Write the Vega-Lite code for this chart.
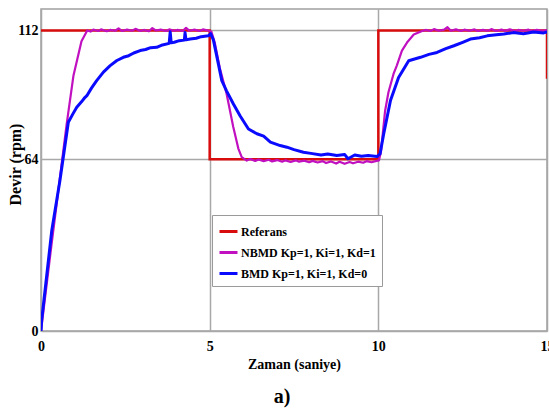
{
  "$schema": "https://vega.github.io/schema/vega-lite/v6.json",
  "autosize": {"type": "none"},
  "width": 506,
  "height": 322,
  "padding": {"left": 41, "top": 9, "right": 2, "bottom": 78},
  "background": "white",
  "title": {"text": "a)", "orient": "bottom", "anchor": "middle", "font": "Liberation Serif", "fontWeight": "bold", "fontSize": 20, "color": "black", "offset": 16, "dx": -12},
  "config": {
    "view": {"stroke": "#a0a0a0", "strokeWidth": 1.5},
    "axis": {"labelFont": "Liberation Serif", "labelFontWeight": "bold", "labelFontSize": 14, "labelColor": "black", "titleFont": "Liberation Serif", "titleFontWeight": "bold", "titleFontSize": 14, "titleColor": "black", "domain": false, "ticks": false, "grid": true, "gridColor": "#a8a8a8", "gridWidth": 1.5}
  },
  "data": {"values": [
    {"s": "Referans", "i": 0, "t": 0, "v": 112},
    {"s": "Referans", "i": 1, "t": 5, "v": 112},
    {"s": "Referans", "i": 2, "t": 5, "v": 64},
    {"s": "Referans", "i": 3, "t": 10, "v": 64},
    {"s": "Referans", "i": 4, "t": 10, "v": 112},
    {"s": "Referans", "i": 5, "t": 15, "v": 112},
    {"s": "Referans", "i": 6, "t": 15, "v": 94},

    {"s": "NBMD Kp=1, Ki=1, Kd=1", "i": 0, "t": 0, "v": 0},
    {"s": "NBMD Kp=1, Ki=1, Kd=1", "i": 1, "t": 0.3, "v": 31},
    {"s": "NBMD Kp=1, Ki=1, Kd=1", "i": 2, "t": 0.56, "v": 57},
    {"s": "NBMD Kp=1, Ki=1, Kd=1", "i": 3, "t": 0.76, "v": 77},
    {"s": "NBMD Kp=1, Ki=1, Kd=1", "i": 4, "t": 0.96, "v": 95},
    {"s": "NBMD Kp=1, Ki=1, Kd=1", "i": 5, "t": 1.2, "v": 108},
    {"s": "NBMD Kp=1, Ki=1, Kd=1", "i": 6, "t": 1.37, "v": 112},
    {"s": "NBMD Kp=1, Ki=1, Kd=1", "i": 7, "t": 1.47, "v": 111.6},
    {"s": "NBMD Kp=1, Ki=1, Kd=1", "i": 8, "t": 1.55, "v": 112.3},
    {"s": "NBMD Kp=1, Ki=1, Kd=1", "i": 9, "t": 1.7, "v": 111.8},
    {"s": "NBMD Kp=1, Ki=1, Kd=1", "i": 10, "t": 1.78, "v": 112.4},
    {"s": "NBMD Kp=1, Ki=1, Kd=1", "i": 11, "t": 1.95, "v": 111.7},
    {"s": "NBMD Kp=1, Ki=1, Kd=1", "i": 12, "t": 2.05, "v": 112.2},
    {"s": "NBMD Kp=1, Ki=1, Kd=1", "i": 13, "t": 2.2, "v": 111.9},
    {"s": "NBMD Kp=1, Ki=1, Kd=1", "i": 14, "t": 2.3, "v": 112.8},
    {"s": "NBMD Kp=1, Ki=1, Kd=1", "i": 15, "t": 2.4, "v": 111.8},
    {"s": "NBMD Kp=1, Ki=1, Kd=1", "i": 16, "t": 2.55, "v": 112.3},
    {"s": "NBMD Kp=1, Ki=1, Kd=1", "i": 17, "t": 2.7, "v": 111.9},
    {"s": "NBMD Kp=1, Ki=1, Kd=1", "i": 18, "t": 2.8, "v": 112.6},
    {"s": "NBMD Kp=1, Ki=1, Kd=1", "i": 19, "t": 2.95, "v": 111.8},
    {"s": "NBMD Kp=1, Ki=1, Kd=1", "i": 20, "t": 3.05, "v": 112.2},
    {"s": "NBMD Kp=1, Ki=1, Kd=1", "i": 21, "t": 3.2, "v": 111.7},
    {"s": "NBMD Kp=1, Ki=1, Kd=1", "i": 22, "t": 3.3, "v": 112.9},
    {"s": "NBMD Kp=1, Ki=1, Kd=1", "i": 23, "t": 3.4, "v": 112.0},
    {"s": "NBMD Kp=1, Ki=1, Kd=1", "i": 24, "t": 3.55, "v": 112.3},
    {"s": "NBMD Kp=1, Ki=1, Kd=1", "i": 25, "t": 3.7, "v": 111.8},
    {"s": "NBMD Kp=1, Ki=1, Kd=1", "i": 26, "t": 3.8, "v": 112.4},
    {"s": "NBMD Kp=1, Ki=1, Kd=1", "i": 27, "t": 3.95, "v": 111.9},
    {"s": "NBMD Kp=1, Ki=1, Kd=1", "i": 28, "t": 4.05, "v": 112.2},
    {"s": "NBMD Kp=1, Ki=1, Kd=1", "i": 29, "t": 4.2, "v": 111.8},
    {"s": "NBMD Kp=1, Ki=1, Kd=1", "i": 30, "t": 4.3, "v": 113.0},
    {"s": "NBMD Kp=1, Ki=1, Kd=1", "i": 31, "t": 4.4, "v": 111.9},
    {"s": "NBMD Kp=1, Ki=1, Kd=1", "i": 32, "t": 4.55, "v": 112.3},
    {"s": "NBMD Kp=1, Ki=1, Kd=1", "i": 33, "t": 4.7, "v": 111.8},
    {"s": "NBMD Kp=1, Ki=1, Kd=1", "i": 34, "t": 4.8, "v": 112.4},
    {"s": "NBMD Kp=1, Ki=1, Kd=1", "i": 35, "t": 4.95, "v": 112.0},
    {"s": "NBMD Kp=1, Ki=1, Kd=1", "i": 36, "t": 5.05, "v": 111.6},
    {"s": "NBMD Kp=1, Ki=1, Kd=1", "i": 37, "t": 5.15, "v": 107.5},
    {"s": "NBMD Kp=1, Ki=1, Kd=1", "i": 38, "t": 5.3, "v": 98},
    {"s": "NBMD Kp=1, Ki=1, Kd=1", "i": 39, "t": 5.5, "v": 88.5},
    {"s": "NBMD Kp=1, Ki=1, Kd=1", "i": 40, "t": 5.7, "v": 76},
    {"s": "NBMD Kp=1, Ki=1, Kd=1", "i": 41, "t": 5.85, "v": 68},
    {"s": "NBMD Kp=1, Ki=1, Kd=1", "i": 42, "t": 5.95, "v": 64.8},
    {"s": "NBMD Kp=1, Ki=1, Kd=1", "i": 43, "t": 6.1, "v": 63.5},
    {"s": "NBMD Kp=1, Ki=1, Kd=1", "i": 44, "t": 6.2, "v": 64.1},
    {"s": "NBMD Kp=1, Ki=1, Kd=1", "i": 45, "t": 6.35, "v": 63.4},
    {"s": "NBMD Kp=1, Ki=1, Kd=1", "i": 46, "t": 6.45, "v": 63.9},
    {"s": "NBMD Kp=1, Ki=1, Kd=1", "i": 47, "t": 6.6, "v": 63.3},
    {"s": "NBMD Kp=1, Ki=1, Kd=1", "i": 48, "t": 6.75, "v": 63.8},
    {"s": "NBMD Kp=1, Ki=1, Kd=1", "i": 49, "t": 6.85, "v": 63.2},
    {"s": "NBMD Kp=1, Ki=1, Kd=1", "i": 50, "t": 7.0, "v": 63.7},
    {"s": "NBMD Kp=1, Ki=1, Kd=1", "i": 51, "t": 7.15, "v": 63.1},
    {"s": "NBMD Kp=1, Ki=1, Kd=1", "i": 52, "t": 7.25, "v": 63.6},
    {"s": "NBMD Kp=1, Ki=1, Kd=1", "i": 53, "t": 7.4, "v": 63.0},
    {"s": "NBMD Kp=1, Ki=1, Kd=1", "i": 54, "t": 7.55, "v": 63.6},
    {"s": "NBMD Kp=1, Ki=1, Kd=1", "i": 55, "t": 7.65, "v": 63.1},
    {"s": "NBMD Kp=1, Ki=1, Kd=1", "i": 56, "t": 7.8, "v": 63.5},
    {"s": "NBMD Kp=1, Ki=1, Kd=1", "i": 57, "t": 7.95, "v": 62.9},
    {"s": "NBMD Kp=1, Ki=1, Kd=1", "i": 58, "t": 8.05, "v": 63.4},
    {"s": "NBMD Kp=1, Ki=1, Kd=1", "i": 59, "t": 8.2, "v": 62.8},
    {"s": "NBMD Kp=1, Ki=1, Kd=1", "i": 60, "t": 8.35, "v": 63.3},
    {"s": "NBMD Kp=1, Ki=1, Kd=1", "i": 61, "t": 8.45, "v": 62.6},
    {"s": "NBMD Kp=1, Ki=1, Kd=1", "i": 62, "t": 8.6, "v": 63.2},
    {"s": "NBMD Kp=1, Ki=1, Kd=1", "i": 63, "t": 8.75, "v": 62.4},
    {"s": "NBMD Kp=1, Ki=1, Kd=1", "i": 64, "t": 8.85, "v": 63.1},
    {"s": "NBMD Kp=1, Ki=1, Kd=1", "i": 65, "t": 9.0, "v": 62.3},
    {"s": "NBMD Kp=1, Ki=1, Kd=1", "i": 66, "t": 9.15, "v": 63.0},
    {"s": "NBMD Kp=1, Ki=1, Kd=1", "i": 67, "t": 9.25, "v": 62.5},
    {"s": "NBMD Kp=1, Ki=1, Kd=1", "i": 68, "t": 9.4, "v": 63.1},
    {"s": "NBMD Kp=1, Ki=1, Kd=1", "i": 69, "t": 9.55, "v": 62.7},
    {"s": "NBMD Kp=1, Ki=1, Kd=1", "i": 70, "t": 9.65, "v": 63.3},
    {"s": "NBMD Kp=1, Ki=1, Kd=1", "i": 71, "t": 9.8, "v": 62.9},
    {"s": "NBMD Kp=1, Ki=1, Kd=1", "i": 72, "t": 9.95, "v": 63.4},
    {"s": "NBMD Kp=1, Ki=1, Kd=1", "i": 73, "t": 10.02, "v": 63.6},
    {"s": "NBMD Kp=1, Ki=1, Kd=1", "i": 74, "t": 10.08, "v": 67},
    {"s": "NBMD Kp=1, Ki=1, Kd=1", "i": 75, "t": 10.2, "v": 82},
    {"s": "NBMD Kp=1, Ki=1, Kd=1", "i": 76, "t": 10.3, "v": 89},
    {"s": "NBMD Kp=1, Ki=1, Kd=1", "i": 77, "t": 10.45, "v": 95.8},
    {"s": "NBMD Kp=1, Ki=1, Kd=1", "i": 78, "t": 10.55, "v": 99},
    {"s": "NBMD Kp=1, Ki=1, Kd=1", "i": 79, "t": 10.7, "v": 104.5},
    {"s": "NBMD Kp=1, Ki=1, Kd=1", "i": 80, "t": 10.85, "v": 107.5},
    {"s": "NBMD Kp=1, Ki=1, Kd=1", "i": 81, "t": 11.05, "v": 110.5},
    {"s": "NBMD Kp=1, Ki=1, Kd=1", "i": 82, "t": 11.28, "v": 111.7},
    {"s": "NBMD Kp=1, Ki=1, Kd=1", "i": 83, "t": 11.4, "v": 112.2},
    {"s": "NBMD Kp=1, Ki=1, Kd=1", "i": 84, "t": 11.55, "v": 111.8},
    {"s": "NBMD Kp=1, Ki=1, Kd=1", "i": 85, "t": 11.65, "v": 112.5},
    {"s": "NBMD Kp=1, Ki=1, Kd=1", "i": 86, "t": 11.8, "v": 111.9},
    {"s": "NBMD Kp=1, Ki=1, Kd=1", "i": 87, "t": 11.95, "v": 112.3},
    {"s": "NBMD Kp=1, Ki=1, Kd=1", "i": 88, "t": 12.05, "v": 113.2},
    {"s": "NBMD Kp=1, Ki=1, Kd=1", "i": 89, "t": 12.15, "v": 111.9},
    {"s": "NBMD Kp=1, Ki=1, Kd=1", "i": 90, "t": 12.3, "v": 112.4},
    {"s": "NBMD Kp=1, Ki=1, Kd=1", "i": 91, "t": 12.45, "v": 111.8},
    {"s": "NBMD Kp=1, Ki=1, Kd=1", "i": 92, "t": 12.55, "v": 112.3},
    {"s": "NBMD Kp=1, Ki=1, Kd=1", "i": 93, "t": 12.7, "v": 111.9},
    {"s": "NBMD Kp=1, Ki=1, Kd=1", "i": 94, "t": 12.85, "v": 112.4},
    {"s": "NBMD Kp=1, Ki=1, Kd=1", "i": 95, "t": 12.95, "v": 111.8},
    {"s": "NBMD Kp=1, Ki=1, Kd=1", "i": 96, "t": 13.1, "v": 112.2},
    {"s": "NBMD Kp=1, Ki=1, Kd=1", "i": 97, "t": 13.25, "v": 111.9},
    {"s": "NBMD Kp=1, Ki=1, Kd=1", "i": 98, "t": 13.35, "v": 112.5},
    {"s": "NBMD Kp=1, Ki=1, Kd=1", "i": 99, "t": 13.5, "v": 111.8},
    {"s": "NBMD Kp=1, Ki=1, Kd=1", "i": 100, "t": 13.65, "v": 112.3},
    {"s": "NBMD Kp=1, Ki=1, Kd=1", "i": 101, "t": 13.75, "v": 111.9},
    {"s": "NBMD Kp=1, Ki=1, Kd=1", "i": 102, "t": 13.9, "v": 112.4},
    {"s": "NBMD Kp=1, Ki=1, Kd=1", "i": 103, "t": 14.05, "v": 111.8},
    {"s": "NBMD Kp=1, Ki=1, Kd=1", "i": 104, "t": 14.15, "v": 112.2},
    {"s": "NBMD Kp=1, Ki=1, Kd=1", "i": 105, "t": 14.3, "v": 111.9},
    {"s": "NBMD Kp=1, Ki=1, Kd=1", "i": 106, "t": 14.45, "v": 112.3},
    {"s": "NBMD Kp=1, Ki=1, Kd=1", "i": 107, "t": 14.55, "v": 111.8},
    {"s": "NBMD Kp=1, Ki=1, Kd=1", "i": 108, "t": 14.7, "v": 112.2},
    {"s": "NBMD Kp=1, Ki=1, Kd=1", "i": 109, "t": 14.85, "v": 111.9},
    {"s": "NBMD Kp=1, Ki=1, Kd=1", "i": 110, "t": 15.0, "v": 112.1},

    {"s": "BMD Kp=1, Ki=1, Kd=0", "i": 0, "t": 0, "v": 0},
    {"s": "BMD Kp=1, Ki=1, Kd=0", "i": 1, "t": 0.02, "v": 4},
    {"s": "BMD Kp=1, Ki=1, Kd=0", "i": 2, "t": 0.32, "v": 37.5},
    {"s": "BMD Kp=1, Ki=1, Kd=0", "i": 3, "t": 0.56, "v": 56},
    {"s": "BMD Kp=1, Ki=1, Kd=0", "i": 4, "t": 0.81, "v": 77.8},
    {"s": "BMD Kp=1, Ki=1, Kd=0", "i": 5, "t": 0.95, "v": 81},
    {"s": "BMD Kp=1, Ki=1, Kd=0", "i": 6, "t": 1.06, "v": 83.4},
    {"s": "BMD Kp=1, Ki=1, Kd=0", "i": 7, "t": 1.2, "v": 85.4},
    {"s": "BMD Kp=1, Ki=1, Kd=0", "i": 8, "t": 1.3, "v": 87.0},
    {"s": "BMD Kp=1, Ki=1, Kd=0", "i": 9, "t": 1.36, "v": 87.7},
    {"s": "BMD Kp=1, Ki=1, Kd=0", "i": 10, "t": 1.5, "v": 90.6},
    {"s": "BMD Kp=1, Ki=1, Kd=0", "i": 11, "t": 1.65, "v": 93.3},
    {"s": "BMD Kp=1, Ki=1, Kd=0", "i": 12, "t": 1.85, "v": 96.5},
    {"s": "BMD Kp=1, Ki=1, Kd=0", "i": 13, "t": 2.05, "v": 98.9},
    {"s": "BMD Kp=1, Ki=1, Kd=0", "i": 14, "t": 2.25, "v": 100.8},
    {"s": "BMD Kp=1, Ki=1, Kd=0", "i": 15, "t": 2.44, "v": 102},
    {"s": "BMD Kp=1, Ki=1, Kd=0", "i": 16, "t": 2.6, "v": 102.6},
    {"s": "BMD Kp=1, Ki=1, Kd=0", "i": 17, "t": 2.75, "v": 103.6},
    {"s": "BMD Kp=1, Ki=1, Kd=0", "i": 18, "t": 2.94, "v": 104.5},
    {"s": "BMD Kp=1, Ki=1, Kd=0", "i": 19, "t": 3.1, "v": 104.9},
    {"s": "BMD Kp=1, Ki=1, Kd=0", "i": 20, "t": 3.25, "v": 105.6},
    {"s": "BMD Kp=1, Ki=1, Kd=0", "i": 21, "t": 3.43, "v": 105.7},
    {"s": "BMD Kp=1, Ki=1, Kd=0", "i": 22, "t": 3.6, "v": 106.6},
    {"s": "BMD Kp=1, Ki=1, Kd=0", "i": 23, "t": 3.8, "v": 107.2},
    {"s": "BMD Kp=1, Ki=1, Kd=0", "i": 24, "t": 3.83, "v": 111.5},
    {"s": "BMD Kp=1, Ki=1, Kd=0", "i": 25, "t": 3.86, "v": 107.4},
    {"s": "BMD Kp=1, Ki=1, Kd=0", "i": 26, "t": 3.95, "v": 107.6},
    {"s": "BMD Kp=1, Ki=1, Kd=0", "i": 27, "t": 4.1, "v": 108.2},
    {"s": "BMD Kp=1, Ki=1, Kd=0", "i": 28, "t": 4.25, "v": 108.4},
    {"s": "BMD Kp=1, Ki=1, Kd=0", "i": 29, "t": 4.27, "v": 111.2},
    {"s": "BMD Kp=1, Ki=1, Kd=0", "i": 30, "t": 4.3, "v": 108.5},
    {"s": "BMD Kp=1, Ki=1, Kd=0", "i": 31, "t": 4.42, "v": 108.8},
    {"s": "BMD Kp=1, Ki=1, Kd=0", "i": 32, "t": 4.6, "v": 109.1},
    {"s": "BMD Kp=1, Ki=1, Kd=0", "i": 33, "t": 4.75, "v": 109.7},
    {"s": "BMD Kp=1, Ki=1, Kd=0", "i": 34, "t": 4.96, "v": 110},
    {"s": "BMD Kp=1, Ki=1, Kd=0", "i": 35, "t": 5.03, "v": 110.8},
    {"s": "BMD Kp=1, Ki=1, Kd=0", "i": 36, "t": 5.11, "v": 108.5},
    {"s": "BMD Kp=1, Ki=1, Kd=0", "i": 37, "t": 5.25, "v": 100},
    {"s": "BMD Kp=1, Ki=1, Kd=0", "i": 38, "t": 5.36, "v": 93.3},
    {"s": "BMD Kp=1, Ki=1, Kd=0", "i": 39, "t": 5.5, "v": 89.5},
    {"s": "BMD Kp=1, Ki=1, Kd=0", "i": 40, "t": 5.7, "v": 84.7},
    {"s": "BMD Kp=1, Ki=1, Kd=0", "i": 41, "t": 5.9, "v": 80.2},
    {"s": "BMD Kp=1, Ki=1, Kd=0", "i": 42, "t": 6.15, "v": 75.3},
    {"s": "BMD Kp=1, Ki=1, Kd=0", "i": 43, "t": 6.4, "v": 73.5},
    {"s": "BMD Kp=1, Ki=1, Kd=0", "i": 44, "t": 6.6, "v": 72.6},
    {"s": "BMD Kp=1, Ki=1, Kd=0", "i": 45, "t": 6.8, "v": 70.4},
    {"s": "BMD Kp=1, Ki=1, Kd=0", "i": 46, "t": 7.09, "v": 69.1},
    {"s": "BMD Kp=1, Ki=1, Kd=0", "i": 47, "t": 7.29, "v": 68.5},
    {"s": "BMD Kp=1, Ki=1, Kd=0", "i": 48, "t": 7.5, "v": 67.6},
    {"s": "BMD Kp=1, Ki=1, Kd=0", "i": 49, "t": 7.78, "v": 66.6},
    {"s": "BMD Kp=1, Ki=1, Kd=0", "i": 50, "t": 8.0, "v": 66.2},
    {"s": "BMD Kp=1, Ki=1, Kd=0", "i": 51, "t": 8.3, "v": 65.6},
    {"s": "BMD Kp=1, Ki=1, Kd=0", "i": 52, "t": 8.5, "v": 66.0},
    {"s": "BMD Kp=1, Ki=1, Kd=0", "i": 53, "t": 8.77, "v": 65.4},
    {"s": "BMD Kp=1, Ki=1, Kd=0", "i": 54, "t": 9.0, "v": 65.8},
    {"s": "BMD Kp=1, Ki=1, Kd=0", "i": 55, "t": 9.1, "v": 64.2},
    {"s": "BMD Kp=1, Ki=1, Kd=0", "i": 56, "t": 9.3, "v": 65.6},
    {"s": "BMD Kp=1, Ki=1, Kd=0", "i": 57, "t": 9.5, "v": 65.1},
    {"s": "BMD Kp=1, Ki=1, Kd=0", "i": 58, "t": 9.7, "v": 65.4},
    {"s": "BMD Kp=1, Ki=1, Kd=0", "i": 59, "t": 9.96, "v": 65},
    {"s": "BMD Kp=1, Ki=1, Kd=0", "i": 60, "t": 10.05, "v": 66},
    {"s": "BMD Kp=1, Ki=1, Kd=0", "i": 61, "t": 10.16, "v": 73.5},
    {"s": "BMD Kp=1, Ki=1, Kd=0", "i": 62, "t": 10.36, "v": 85.9},
    {"s": "BMD Kp=1, Ki=1, Kd=0", "i": 63, "t": 10.6, "v": 94.5},
    {"s": "BMD Kp=1, Ki=1, Kd=0", "i": 64, "t": 10.9, "v": 100.7},
    {"s": "BMD Kp=1, Ki=1, Kd=0", "i": 65, "t": 11.25, "v": 102},
    {"s": "BMD Kp=1, Ki=1, Kd=0", "i": 66, "t": 11.5, "v": 103.1},
    {"s": "BMD Kp=1, Ki=1, Kd=0", "i": 67, "t": 11.74, "v": 103.8},
    {"s": "BMD Kp=1, Ki=1, Kd=0", "i": 68, "t": 12.0, "v": 105.2},
    {"s": "BMD Kp=1, Ki=1, Kd=0", "i": 69, "t": 12.24, "v": 106.3},
    {"s": "BMD Kp=1, Ki=1, Kd=0", "i": 70, "t": 12.5, "v": 107.6},
    {"s": "BMD Kp=1, Ki=1, Kd=0", "i": 71, "t": 12.73, "v": 108.8},
    {"s": "BMD Kp=1, Ki=1, Kd=0", "i": 72, "t": 13.0, "v": 109.3},
    {"s": "BMD Kp=1, Ki=1, Kd=0", "i": 73, "t": 13.23, "v": 110},
    {"s": "BMD Kp=1, Ki=1, Kd=0", "i": 74, "t": 13.5, "v": 110.4},
    {"s": "BMD Kp=1, Ki=1, Kd=0", "i": 75, "t": 13.72, "v": 110.7},
    {"s": "BMD Kp=1, Ki=1, Kd=0", "i": 76, "t": 14.0, "v": 111.2},
    {"s": "BMD Kp=1, Ki=1, Kd=0", "i": 77, "t": 14.3, "v": 110.8},
    {"s": "BMD Kp=1, Ki=1, Kd=0", "i": 78, "t": 14.6, "v": 111.4},
    {"s": "BMD Kp=1, Ki=1, Kd=0", "i": 79, "t": 14.9, "v": 111.1},
    {"s": "BMD Kp=1, Ki=1, Kd=0", "i": 80, "t": 15, "v": 111.5}
  ]},
  "encoding": {
    "x": {"field": "t", "type": "quantitative", "scale": {"domain": [0, 15], "nice": false}, "axis": {"values": [0, 5, 10, 15], "title": "Zaman (saniye)", "labelPadding": 8, "titlePadding": 4, "labelFlush": false}},
    "y": {"field": "v", "type": "quantitative", "scale": {"domain": [0, 120], "nice": false}, "axis": {"values": [0, 64, 112], "title": "Devir (rpm)", "titleFontSize": 16, "labelPadding": 3, "titleX": -18, "titleY": 155}},
    "color": {"field": "s", "type": "nominal", "sort": null,
      "scale": {"domain": ["Referans", "NBMD Kp=1, Ki=1, Kd=1", "BMD Kp=1, Ki=1, Kd=0"], "range": ["#d80c0c", "#c010c0", "#0a0aff"]},
      "legend": {"title": null, "orient": "none", "legendX": 171, "legendY": 206, "symbolType": "stroke", "symbolSize": 324, "symbolStrokeWidth": 3, "labelFont": "Liberation Serif", "labelFontWeight": "bold", "labelFontSize": 12, "labelColor": "black", "strokeColor": "#9a9a9a", "fillColor": "white", "padding": 6, "rowPadding": 4, "labelOffset": 2, "labelLimit": 300}},
    "order": {"field": "i", "type": "quantitative"}
  },
  "layer": [
    {"transform": [{"filter": "datum.s === 'Referans'"}], "mark": {"type": "line", "clip": true, "strokeWidth": 2.5}},
    {"transform": [{"filter": "datum.s === 'NBMD Kp=1, Ki=1, Kd=1'"}], "mark": {"type": "line", "clip": true, "strokeWidth": 2.2, "strokeJoin": "round"}},
    {"transform": [{"filter": "datum.s === 'BMD Kp=1, Ki=1, Kd=0'"}], "mark": {"type": "line", "clip": true, "strokeWidth": 3, "strokeJoin": "round"}}
  ]
}
